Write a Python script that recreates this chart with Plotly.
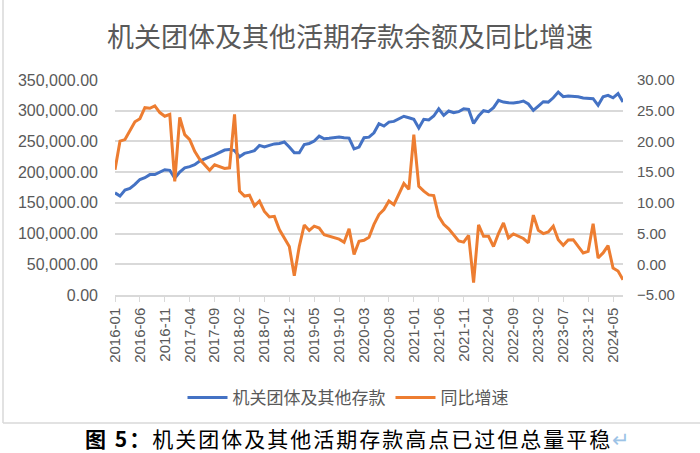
import plotly.graph_objects as go

# ---------------- data ----------------
months = []
for y in range(2016, 2025):
    for m in range(1, 13):
        if y == 2024 and m > 7:
            break
        months.append(f"{y}-{m:02d}")

deposits = [
    166300, 161000, 171000, 173500, 180000, 188000, 191000, 196000, 196000, 200000,
    204000, 203000, 190000, 200000, 207000, 209000, 212000, 218000, 222000, 225000,
    228000, 231500, 236000, 237000, 235000, 225000, 230500, 232600, 235000, 243500,
    241000, 243500, 246000, 246700, 249000, 241000, 231500, 231500, 245000, 246700,
    250500, 258700, 254300, 255000, 256000, 257000, 256000, 255400, 238000, 240800,
    256000, 257000, 264000, 278800, 275000, 281500, 282600, 287500, 291000, 288600,
    286000, 272000, 286000, 285000, 291300, 303000, 292400, 299500, 296700, 298400,
    303000, 302000, 279300, 291300, 300000, 298400, 305000, 316800, 314000, 313000,
    312500, 313600, 315800, 311000, 300500, 307600, 314700, 314000, 321000, 330400,
    322800, 324000, 324000, 322800, 320700, 319600, 319600, 308700, 322800, 325000,
    321000, 328000, 314000,
]

growth = [
    15.4, 20.05, 20.3, 21.7, 23.2, 23.7, 25.5, 25.4, 25.8, 24.7,
    24.1, 24.4, 13.5, 23.9, 21.1, 20.3, 18.4, 17.1, 16.2, 15.3,
    16.2, 15.9, 15.6, 15.7, 24.4, 11.9, 11.1, 11.25, 9.5, 10.3,
    8.6, 7.7, 7.8, 5.65, 4.3, 2.9, -1.85, 2.9, 6.4, 5.5,
    6.2, 5.9, 4.8, 4.56, 4.3, 4.1, 3.6, 5.76, 1.6, 3.75,
    3.9, 4.4, 6.5, 8.1, 8.9, 10.3, 9.7, 11.4, 13.15, 12.2,
    21.1, 12.7, 11.9, 11.3, 11.2, 7.8, 6.5, 5.76, 4.8, 3.8,
    3.6, 4.7, -3.0, 6.4, 4.56, 4.56, 2.9, 5.0, 6.74, 4.3,
    4.95, 4.56, 4.2, 3.5, 8.0, 5.55, 5.0, 5.27, 6.2, 4.0,
    3.1, 3.97, 4.0, 2.9, 1.85, 2.1, 6.6, 1.03, 1.85, 3.05,
    -0.6, -1.1, -2.5,
]

tick_labels = months[::5]
left_ticks = [0, 50000, 100000, 150000, 200000, 250000, 300000, 350000]
right_ticks = [-5, 0, 5, 10, 15, 20, 25, 30]

series_names = ["机关团体及其他存款", "同比增速"]
title_text = "机关团体及其他活期存款余额及同比增速"
caption_text = ("<span style='letter-spacing:2px'><b>图 5：</b>机关团体及其他活期存款高点已过但总量平稳</span>"
                "<span style='color:#9dc3e6'>↵</span>")

# ---------------- layout geometry ----------------
W, H = 700, 453
L, R, T, B = 115, 623, 80, 295


def px_x(px):
    return (px - L) / (R - L)


def px_y(py):
    return (B - py) / (B - T)


GRAY = "#595959"
FONT = "Liberation Sans, Arial, Noto Sans CJK SC"

fig = go.Figure()
fig.add_trace(go.Scatter(
    x=months, y=deposits, name=series_names[0], mode="lines",
    line=dict(color="#4472C4", width=3), yaxis="y",
))
fig.add_trace(go.Scatter(
    x=months, y=growth, name=series_names[1], mode="lines",
    line=dict(color="#ED7D31", width=3), yaxis="y2",
))

fig.update_layout(
    width=W, height=H,
    margin=dict(l=L, r=W - R, t=T, b=H - B, pad=0, autoexpand=False),
    paper_bgcolor="white", plot_bgcolor="white",
    font=dict(family=FONT, color=GRAY, size=15),
    title=dict(
        text=title_text, x=0.5, xanchor="center", xref="container",
        y=1 - 38 / H, yanchor="middle", yref="container",
        font=dict(family="Noto Sans CJK SC", size=27, color=GRAY),
    ),
    xaxis=dict(
        type="category", range=[0, len(months) - 1],
        tickmode="array", tickvals=tick_labels, ticktext=tick_labels,
        tickangle=-90, ticks="outside", ticklen=5, tickcolor="#d9d9d9",
        showline=True, linecolor="#d9d9d9", linewidth=1.5,
        showgrid=False, zeroline=False,
        tickfont=dict(size=15, color=GRAY),
    ),
    yaxis=dict(
        range=[0, 350000], tickmode="array", tickvals=left_ticks,
        tickformat=",.2f", showgrid=True, gridcolor="#d9d9d9", gridwidth=1.5,
        zeroline=False, showline=False, ticks="",
        ticklabelstandoff=16,
        tickfont=dict(size=16, color=GRAY),
    ),
    yaxis2=dict(
        range=[-5, 30], overlaying="y", side="right",
        tickmode="array", tickvals=right_ticks,
        tickformat=".2f", ticksuffix="%", showgrid=False, zeroline=False,
        showline=False, ticks="", ticklabelstandoff=13,
        tickfont=dict(size=15, color=GRAY),
    ),
    legend=dict(
        orientation="h", x=px_x(348), xanchor="center",
        y=px_y(398), yanchor="middle", yref="paper",
        font=dict(family="Noto Sans CJK SC", size=17, color=GRAY),
        bgcolor="rgba(0,0,0,0)", itemwidth=40,
    ),
    showlegend=True,
)

# chart frame (left edge and bottom separator)
fig.add_shape(type="line", xref="paper", yref="paper",
              x0=px_x(3), x1=px_x(3), y0=px_y(0), y1=px_y(423),
              line=dict(color="#d9d9d9", width=1.5))
fig.add_shape(type="line", xref="paper", yref="paper",
              x0=px_x(3), x1=px_x(700), y0=px_y(423), y1=px_y(423),
              line=dict(color="#d9d9d9", width=1.5))

fig.add_annotation(
    text=caption_text, xref="paper", yref="paper",
    x=px_x(357), y=px_y(438), xanchor="center", yanchor="middle",
    showarrow=False,
    font=dict(family="Noto Sans CJK SC", size=21, color="#000000"),
)

fig.write_html(
    "out.html",
    config={"displayModeBar": False},
    post_script="document.body.style.margin='0';document.body.style.padding='0';",
)
